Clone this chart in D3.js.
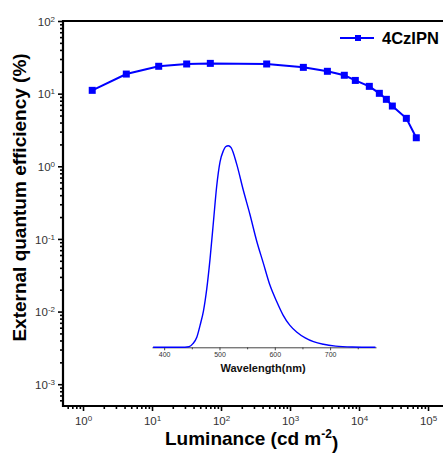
<!DOCTYPE html>
<html>
<head>
<meta charset="utf-8">
<script src="https://cdn.jsdelivr.net/npm/d3@7"></script>
<style>
  body { margin: 0; background: #fff; }
  svg { display: block; font-family: Arial, "Liberation Sans", sans-serif; }
</style>
</head>
<body>
<div id="chart"></div>
<script>
// EQE vs luminance (4CzIPN)
const luminance = [1.36, 4.24, 12.5, 31.8, 70, 459, 1560, 3480, 6120, 8840, 14100, 19700, 24900, 30400, 48500, 67600];
const eqe = [11.1, 18.6, 23.8, 25.6, 26.1, 25.6, 23.0, 20.3, 17.9, 15.2, 12.6, 10.1, 8.35, 6.75, 4.57, 2.47];
const seriesName = '4CzIPN';

// inset EL spectrum (normalised)
const wavelength = [380, 430, 445, 452, 459, 465, 471, 477, 483, 489, 495, 501, 507, 511, 516, 521, 531, 543, 555, 567, 579, 591, 603, 615, 627, 640, 655, 670, 688, 710, 740, 782];
const intensity = [0, 0, 0.003, 0.018, 0.05, 0.11, 0.18, 0.29, 0.44, 0.62, 0.8, 0.92, 0.975, 0.995, 1.0, 0.99, 0.91, 0.78, 0.66, 0.53, 0.42, 0.31, 0.23, 0.16, 0.11, 0.075, 0.047, 0.028, 0.015, 0.006, 0.0015, 0];
const insetTicks = [400, 500, 600, 700];
const insetMinor = [450, 550, 650, 750];

const xMajor = [1, 10, 100, 1000, 10000, 100000];
const yMajor = [0.001, 0.01, 0.1, 1, 10, 100];

const W = 443, H = 456;
const margin = { top: 21, right: 0, bottom: 50, left: 63 },
  width = W - margin.left - margin.right,
  height = H - margin.top - margin.bottom;

const svg = d3.select('#chart').append('svg').attr('width', W).attr('height', H);
const g = svg.append('g').attr('transform', `translate(${margin.left}, ${margin.top})`);

const x = d3.scaleLog().domain([Math.pow(10, -0.29), Math.pow(10, 5.217)]).range([0, width]);
const y = d3.scaleLog().domain([Math.pow(10, -3.3), 100]).range([height, 0]);

const blue = '#0000ff';

// superscript labels like 10^-2
function powLabel(sel, d) {
  const e = Math.round(Math.log10(d));
  sel.text(null);
  sel.append('tspan').text('10');
  sel.append('tspan').attr('dy', '-0.5em').attr('font-size', '8px').text(e);
}

const xMinor = x.ticks().filter((d) => !xMajor.includes(d) && d >= x.domain()[0]);
const yMinor = y.ticks().filter((d) => !yMajor.some((m) => Math.abs(m - d) / m < 1e-6));

// x axis
g.append('g')
  .attr('transform', `translate(0, ${height})`)
  .call(d3.axisBottom(x).tickValues(xMinor).tickSize(3).tickSizeOuter(0).tickFormat(''))
  .call((a) => a.select('.domain').remove())
  .call((a) => a.selectAll('line').attr('stroke-width', 1.6));
g.append('g')
  .attr('transform', `translate(0, ${height})`)
  .call(d3.axisBottom(x).tickValues(xMajor).tickSize(5).tickSizeOuter(0))
  .call((a) => a.select('.domain').remove())
  .call((a) => a.selectAll('line').attr('stroke-width', 1.6))
  .call((a) =>
    a.selectAll('text')
      .attr('y', 11)
      .attr('dy', '0.71em')
      .attr('font-size', '11.5px')
      .attr('fill', '#333')
      .attr('font-family', 'Arial, "Liberation Sans", sans-serif')
      .each(function (d) { powLabel(d3.select(this), d); })
  );

// y axis
g.append('g')
  .call(d3.axisLeft(y).tickValues(yMinor).tickSize(3).tickSizeOuter(0).tickFormat(''))
  .call((a) => a.select('.domain').remove())
  .call((a) => a.selectAll('line').attr('stroke-width', 1.6));
g.append('g')
  .call(d3.axisLeft(y).tickValues(yMajor).tickSize(5).tickSizeOuter(0))
  .call((a) => a.select('.domain').remove())
  .call((a) => a.selectAll('line').attr('stroke-width', 1.6))
  .call((a) =>
    a.selectAll('text')
      .attr('x', -8)
      .attr('dy', '0.36em')
      .attr('font-size', '11.5px')
      .attr('fill', '#333')
      .attr('font-family', 'Arial, "Liberation Sans", sans-serif')
      .each(function (d) { powLabel(d3.select(this), d); })
  );

// frame (left, bottom, top)
g.append('path')
  .attr('d', `M${width},0H0V${height}H${width}`)
  .attr('fill', 'none')
  .attr('stroke', '#000')
  .attr('stroke-width', 2.2);

// EQE series
const data = luminance.map((l, i) => ({ l: l, v: eqe[i] }));
g.append('path')
  .datum(data)
  .attr('fill', 'none')
  .attr('stroke', blue)
  .attr('stroke-width', 2)
  .attr('d', d3.line().x((d) => x(d.l)).y((d) => y(d.v)));
g.selectAll('.pt')
  .data(data)
  .enter()
  .append('rect')
  .attr('class', 'pt')
  .attr('x', (d) => x(d.l) - 3.5)
  .attr('y', (d) => y(d.v) - 3.5)
  .attr('width', 7)
  .attr('height', 7)
  .attr('fill', blue);

// legend
const leg = g.append('g').attr('transform', 'translate(277, 17)');
leg.append('line').attr('x1', 0).attr('x2', 34).attr('stroke', blue).attr('stroke-width', 2);
leg.append('rect').attr('x', 15).attr('y', -3).attr('width', 6).attr('height', 6).attr('fill', blue);
leg.append('text')
  .attr('x', 42)
  .attr('y', 5.5)
  .attr('font-size', '16.5px')
  .attr('font-weight', 'bold')
  .text(seriesName);

// inset spectrum
const inset = g.append('g').attr('transform', 'translate(89, 124.7)');
const iw = 224, ih = 201.6;
const ix = d3.scaleLinear().domain([378, 783]).range([0, iw]);
const iy = d3.scaleLinear().domain([0, 1]).range([ih, 0]);

inset.append('g')
  .attr('transform', `translate(0, ${ih})`)
  .call(d3.axisBottom(ix).tickValues(insetMinor).tickSize(2).tickSizeOuter(0).tickFormat(''))
  .call((a) => a.select('.domain').remove())
  .call((a) => a.selectAll('line').attr('stroke', '#444'));
inset.append('g')
  .attr('transform', `translate(0, ${ih})`)
  .call(d3.axisBottom(ix).tickValues(insetTicks).tickSize(3).tickSizeOuter(0))
  .call((a) => a.select('.domain').attr('stroke', '#444'))
  .call((a) => a.selectAll('line').attr('stroke', '#444'))
  .call((a) =>
    a.selectAll('text')
      .attr('y', 5)
      .attr('font-size', '7px')
      .attr('fill', '#333')
      .attr('font-family', 'Arial, "Liberation Sans", sans-serif')
  );
inset.append('text')
  .attr('x', 111)
  .attr('y', ih + 24.4)
  .attr('text-anchor', 'middle')
  .attr('font-size', '11px')
  .attr('font-weight', 'bold')
  .attr('fill', '#111')
  .text('Wavelength(nm)');

inset.append('path')
  .datum(wavelength.map((w, i) => [w, intensity[i]]))
  .attr('fill', 'none')
  .attr('stroke', blue)
  .attr('stroke-width', 1.4)
  .attr('d', d3.line().curve(d3.curveMonotoneX).x((d) => ix(d[0])).y((d) => iy(d[1])));

// axis titles
svg.append('text')
  .attr('transform', 'translate(26, 197.5) rotate(-90)')
  .attr('text-anchor', 'middle')
  .attr('font-size', '19px')
  .attr('font-weight', 'bold')
  .text('External quantum efficiency (%)');

const xt = svg.append('text')
  .attr('x', 165)
  .attr('y', 445)
  .attr('font-size', '19px')
  .attr('font-weight', 'bold');
xt.append('tspan').text('Luminance (cd m');
xt.append('tspan').attr('dy', '-0.55em').attr('font-size', '12px').text('-2');
xt.append('tspan').attr('dy', '0.55em').text(')');
</script>
</body>
</html>
